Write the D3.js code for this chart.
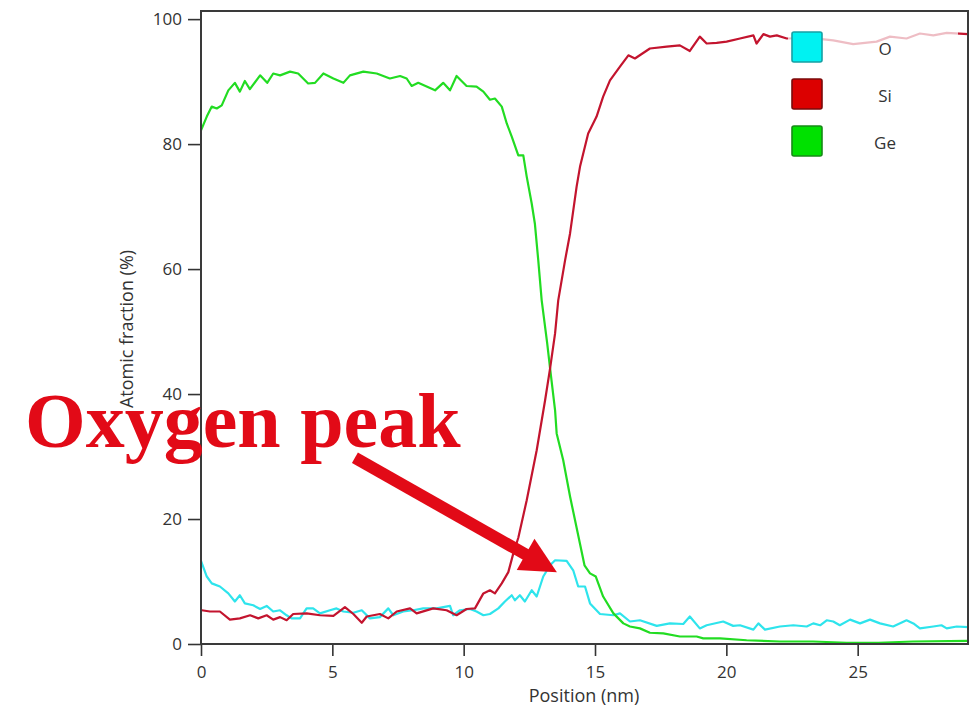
<!DOCTYPE html>
<html>
<head>
<meta charset="utf-8">
<script src="https://cdn.jsdelivr.net/npm/d3@7"></script>
<style>
  body { margin: 0; background: #ffffff; }
  svg { display: block; }
</style>
</head>
<body>
<svg id="chart" width="979" height="708"></svg>
<script>
// Tick values and element labels
const xTicks = [0, 5, 10, 15, 20, 25];
const yTicks = [0, 20, 40, 60, 80, 100];
const elements = ["O", "Si", "Ge"];

// Line-scan profiles: [position (nm), atomic fraction (%)]
const oxygen = [
  [0.0,13.3],[0.22,10.8],[0.41,9.7],[0.72,9.2],[1.04,8.1],[1.29,6.8],[1.48,7.8],[1.67,6.5],
  [1.99,6.2],[2.25,5.6],[2.50,6.1],[2.75,5.2],[3.01,5.4],[3.26,4.6],[3.45,4.1],[3.77,4.1],
  [4.02,5.7],[4.27,5.7],[4.53,4.9],[4.91,5.4],[5.16,5.7],[5.42,5.2],[5.80,5.0],[6.12,5.4],
  [6.43,4.1],[6.81,4.3],[7.13,5.7],[7.32,4.6],[7.70,5.2],[8.08,5.4],[8.46,5.7],[8.97,5.7],
  [9.48,6.1],[9.60,4.6],[9.86,5.4],[10.24,5.6],[10.49,5.2],[10.75,4.6],[11.0,4.8],[11.32,5.7],
  [11.57,6.8],[11.83,7.8],[11.95,7.0],[12.14,7.8],[12.33,6.8],[12.59,8.6],[12.78,7.6],[13.03,10.8],
  [13.29,12.6],[13.48,13.4],[13.92,13.3],[14.17,11.8],[14.36,9.2],[14.62,9.2],[14.81,6.5],[15.19,4.8],
  [15.70,4.6],[15.95,4.9],[16.33,3.6],[16.71,3.8],[17.35,2.9],[17.85,3.3],[18.36,3.2],[18.61,4.4],
  [18.99,2.5],[19.25,3.0],[19.88,3.6],[20.26,2.9],[20.52,3.0],[21.03,2.3],[21.22,3.3],[21.47,2.3],
  [22.04,2.8],[22.55,3.0],[23.06,2.8],[23.31,3.3],[23.57,3.0],[23.82,3.8],[24.07,3.6],[24.32,3.0],
  [24.71,3.9],[25.09,3.3],[25.47,3.9],[25.85,3.3],[26.35,2.8],[26.86,3.8],[27.12,3.3],[27.37,2.5],
  [27.88,2.8],[28.19,3.0],[28.39,2.5],[28.77,2.8],[29.2,2.7]
];

const silicon = [
  [0.03,5.4],[0.34,5.2],[0.72,5.2],[1.10,3.9],[1.48,4.1],[1.87,4.6],[2.18,4.1],[2.50,4.6],
  [2.75,3.9],[3.01,4.3],[3.26,3.8],[3.51,4.8],[4.02,4.9],[4.53,4.6],[5.04,4.5],[5.48,5.9],
  [5.80,4.8],[6.12,3.4],[6.31,4.4],[6.81,4.8],[7.13,4.1],[7.45,5.2],[7.96,5.7],[8.21,4.9],
  [8.84,5.7],[9.35,5.4],[9.73,4.6],[10.11,5.6],[10.43,5.7],[10.75,8.1],[11.0,8.6],[11.19,8.1],
  [11.45,9.7],[11.70,11.5],[11.89,14.5],[12.08,17.0],[12.40,23.0],[12.78,31.0],[13.10,39.0],[13.29,44.1],
  [13.48,49.7],[13.60,55.0],[13.86,61.4],[14.05,65.7],[14.30,73.2],[14.43,76.4],[14.74,81.7],[15.06,84.4],
  [15.31,87.6],[15.57,90.2],[15.95,92.4],[16.27,94.2],[16.52,93.7],[17.09,95.3],[17.73,95.6],[18.23,95.8],
  [18.61,94.9],[18.99,97.2],[19.25,96.1],[19.63,96.2],[20.01,96.4],[20.52,96.9],[21.03,97.4],[21.15,96.1],
  [21.41,97.6],[21.66,97.2],[21.92,97.4],[22.30,96.9],[23.20,97.0],[24.07,96.6],[24.83,96.0],[25.72,96.4],
  [26.23,97.2],[26.86,96.9],[27.37,97.7],[27.88,97.4],[28.39,97.8],[29.2,97.6]
];

const germanium = [
  [0.0,82.2],[0.22,84.4],[0.41,86.0],[0.60,85.7],[0.79,86.2],[1.04,88.6],[1.29,89.8],[1.48,88.4],
  [1.67,90.1],[1.86,88.8],[2.25,91.0],[2.52,89.8],[2.75,91.3],[3.01,91.0],[3.39,91.6],[3.70,91.3],
  [4.08,89.7],[4.34,89.8],[4.66,91.3],[5.04,90.5],[5.42,89.8],[5.67,91.0],[6.18,91.6],[6.69,91.3],
  [7.19,90.5],[7.58,90.9],[7.83,90.5],[8.02,89.3],[8.27,89.8],[8.91,88.6],[9.22,89.8],[9.48,88.6],
  [9.73,90.9],[10.11,89.3],[10.49,89.2],[10.75,88.4],[11.0,87.1],[11.19,87.3],[11.45,86.0],[11.64,83.3],
  [11.83,81.2],[12.08,78.2],[12.27,78.2],[12.40,74.8],[12.59,70.5],[12.71,67.3],[12.84,61.4],[12.97,55.0],
  [13.18,48.1],[13.29,44.1],[13.48,37.4],[13.54,33.7],[13.79,29.4],[14.05,23.6],[14.24,19.8],[14.43,16.0],
  [14.60,12.6],[14.81,11.3],[15.03,10.8],[15.31,7.6],[15.70,4.9],[16.08,3.3],[16.33,2.8],[16.71,2.5],
  [17.09,1.8],[17.60,1.7],[18.23,1.2],[18.87,1.2],[19.12,0.9],[19.76,0.9],[20.77,0.6],[22.04,0.4],
  [23.30,0.4],[24.58,0.2],[25.80,0.2],[27.10,0.4],[29.2,0.5]
];

const peakLabel = "Oxygen peak";
// Annotation anchor points in data space
const labelAnchor = [-6.7, 31.5];
const arrowTail = [5.86, 29.8];
const arrowTip = [13.55, 11.5];

const lineColors = { O: "#2ee4ec", Si: "#c3142e", Ge: "#22dc22" };
const swatchFill = { O: "#00f2f2", Si: "#dc0000", Ge: "#00e100" };
const swatchStroke = { O: "#16a0a4", Si: "#7a0a0a", Ge: "#178a17" };
const series = { O: oxygen, Si: silicon, Ge: germanium };

const svg = d3.select("#chart");
const fontUI = "'Open Sans', 'Noto Sans', sans-serif";

const x = d3.scaleLinear().domain([0, 29.2]).range([201, 968]);
const y = d3.scaleLinear().domain([0, 101.3]).range([644, 11]);

// Axes
const xAxis = svg.append("g")
  .attr("transform", `translate(0,${y(0)})`)
  .call(d3.axisBottom(x).tickValues(xTicks).tickSize(12).tickPadding(10));
const yAxis = svg.append("g")
  .attr("transform", `translate(${x(0)},0)`)
  .call(d3.axisLeft(y).tickValues(yTicks).tickSize(13).tickPadding(6));
[xAxis, yAxis].forEach(g => {
  g.select(".domain").remove();
  g.selectAll(".tick line").attr("stroke", "#333").attr("stroke-width", 1.6);
  g.selectAll(".tick text")
    .attr("fill", "#333")
    .style("font-family", fontUI)
    .style("font-size", "17px");
});

// Profile lines
const line = d3.line().x(d => x(d[0])).y(d => y(d[1]));
const plot = svg.append("g");
["O", "Ge", "Si"].forEach(k => {
  plot.append("path")
    .datum(series[k])
    .attr("fill", "none")
    .attr("stroke", lineColors[k])
    .attr("stroke-width", 2.2)
    .attr("stroke-linejoin", "round")
    .attr("d", line);
});

// Plot frame
svg.append("rect")
  .attr("x", x(0)).attr("y", y(101.3))
  .attr("width", x(29.2) - x(0)).attr("height", y(0) - y(101.3))
  .attr("fill", "none").attr("stroke", "#3a3a3a").attr("stroke-width", 2);

// Legend
const legend = svg.append("g");
legend.append("rect")
  .attr("x", 788).attr("y", 24).attr("width", 170).attr("height", 144)
  .attr("fill", "#ffffff").attr("fill-opacity", 0.72);
elements.forEach((k, i) => {
  const top = 32 + i * 47;
  legend.append("rect")
    .attr("x", 792).attr("y", top).attr("width", 30).attr("height", 30)
    .attr("rx", 2)
    .attr("fill", swatchFill[k]).attr("stroke", swatchStroke[k]).attr("stroke-width", 1.6);
  legend.append("text")
    .attr("x", 885).attr("y", top + 16)
    .attr("text-anchor", "middle").attr("dominant-baseline", "central")
    .attr("fill", "#333")
    .style("font-family", fontUI).style("font-size", "17px")
    .text(k);
});

// Axis titles
svg.append("text")
  .attr("x", 584).attr("y", 702)
  .attr("text-anchor", "middle")
  .attr("fill", "#333")
  .style("font-family", fontUI).style("font-size", "18px")
  .text("Position (nm)");
svg.append("text")
  .attr("transform", "translate(126,329) rotate(-90)")
  .attr("text-anchor", "middle").attr("dominant-baseline", "central")
  .attr("fill", "#333")
  .style("font-family", fontUI).style("font-size", "18px")
  .text("Atomic fraction (%)");

// Annotation: label and arrow pointing at the oxygen peak
const red = "#e20a17";
const t0 = [x(arrowTail[0]), y(arrowTail[1])];
const t1 = [x(arrowTip[0]), y(arrowTip[1])];
const ang = Math.atan2(t1[1] - t0[1], t1[0] - t0[0]);
const headLen = 36, headHalf = 18;
const base = [t1[0] - headLen * Math.cos(ang), t1[1] - headLen * Math.sin(ang)];
const px = -Math.sin(ang), py = Math.cos(ang);
svg.append("line")
  .attr("x1", t0[0]).attr("y1", t0[1])
  .attr("x2", base[0] + 2 * Math.cos(ang)).attr("y2", base[1] + 2 * Math.sin(ang))
  .attr("stroke", red).attr("stroke-width", 12);
svg.append("path")
  .attr("d", `M${t1[0]},${t1[1]}L${base[0] + headHalf * px},${base[1] + headHalf * py}L${base[0] - headHalf * px},${base[1] - headHalf * py}Z`)
  .attr("fill", red);
svg.append("text")
  .attr("x", x(labelAnchor[0])).attr("y", y(labelAnchor[1]))
  .attr("fill", red)
  .style("font-family", "'Liberation Serif', 'Times New Roman', serif")
  .style("font-weight", "bold")
  .style("font-size", "78px")
  .text(peakLabel);
</script>
</body>
</html>
